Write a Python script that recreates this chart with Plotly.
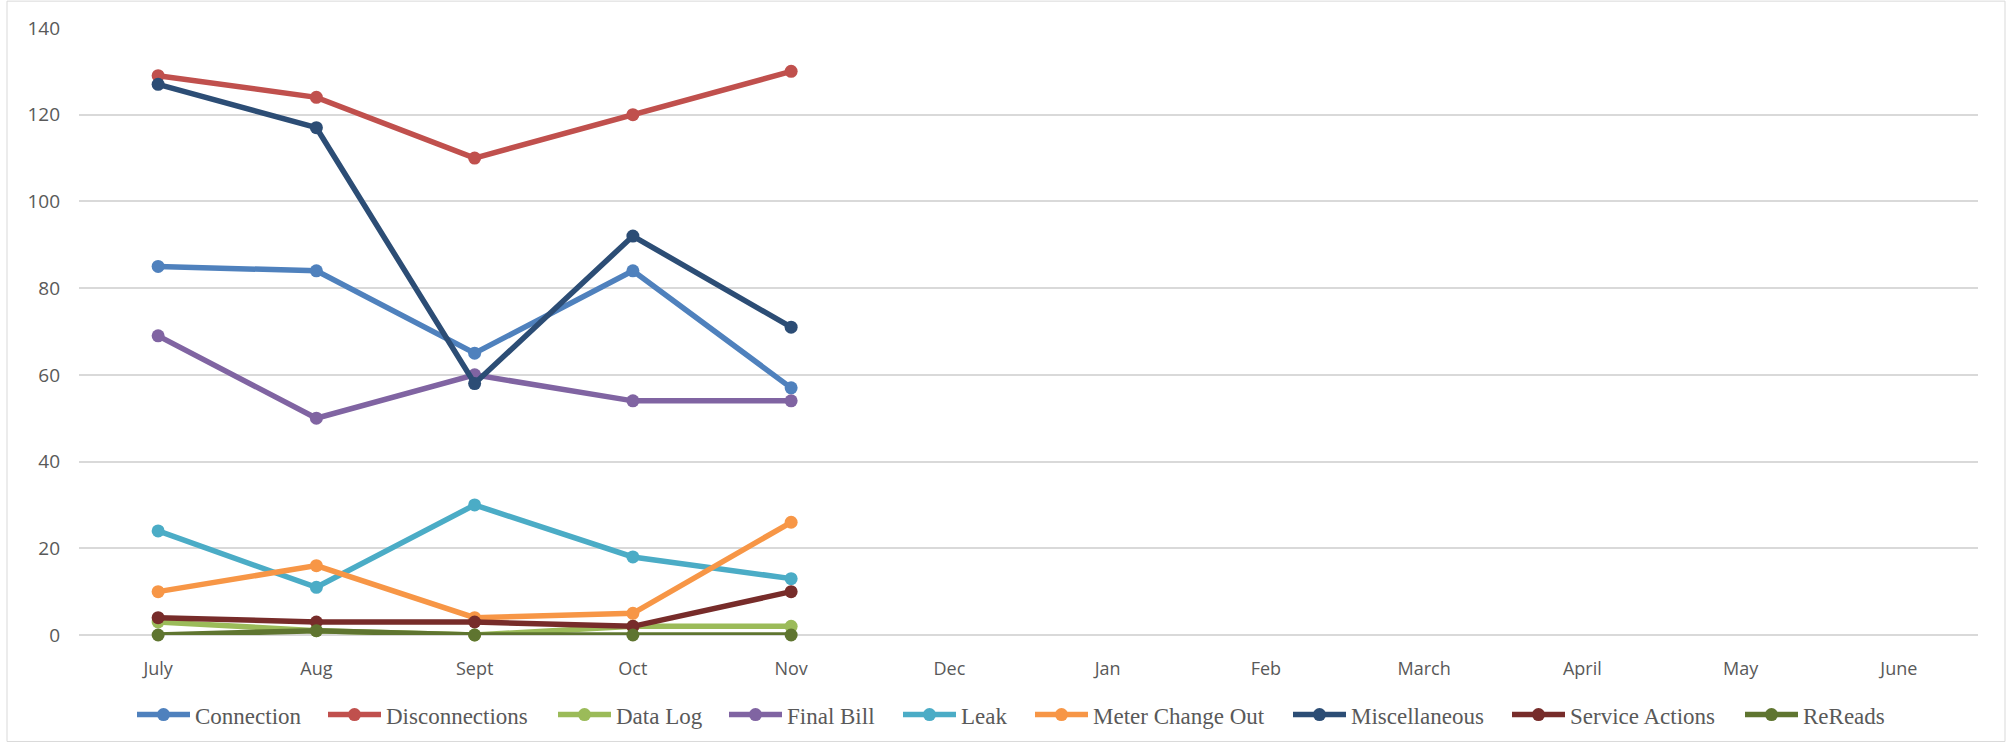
import plotly.graph_objects as go

months = ["July", "Aug", "Sept", "Oct", "Nov", "Dec", "Jan", "Feb", "March", "April", "May", "June"]
recorded_months = months[:5]

connection = [85, 84, 65, 84, 57]
disconnections = [129, 124, 110, 120, 130]
data_log = [3, 1, 0, 2, 2]
final_bill = [69, 50, 60, 54, 54]
leak = [24, 11, 30, 18, 13]
meter_change_out = [10, 16, 4, 5, 26]
miscellaneous = [127, 117, 58, 92, 71]
service_actions = [4, 3, 3, 2, 10]
rereads = [0, 1, 0, 0, 0]

series_names = ["Connection", "Disconnections", "Data Log", "Final Bill", "Leak",
                "Meter Change Out", "Miscellaneous", "Service Actions", "ReReads"]
series_values = [connection, disconnections, data_log, final_bill, leak,
                 meter_change_out, miscellaneous, service_actions, rereads]
series_colors = ["#4F81BD", "#C0504D", "#9BBB59", "#8064A2", "#4BACC6",
                 "#F79646", "#2C4D75", "#772C2A", "#5F7530"]

# pixel x of each legend entry's line sample (layout only)
legend_px = [137, 328, 558, 729, 903, 1035, 1293, 1512, 1745]

W, H = 2011, 748
L, R, T, B = 79, 33, 28, 110
pw, ph = W - L - R, H - T - B

fig = go.Figure()
legend_layouts = {}
for i, (name, vals, color) in enumerate(zip(series_names, series_values, series_colors)):
    lg = "legend" if i == 0 else f"legend{i + 1}"
    fig.add_trace(go.Scatter(
        x=recorded_months, y=vals, name=name, mode="lines+markers",
        line=dict(color=color, width=5.5),
        marker=dict(color=color, size=13),
        cliponaxis=False, legend=lg,
    ))
    legend_layouts[lg] = dict(
        orientation="h", x=(legend_px[i] - 5 - L) / pw, xanchor="left",
        y=(638 - 718) / ph, yanchor="middle",
        font=dict(family="Liberation Serif, Times New Roman, serif", size=23, color="#595959"),
        itemwidth=53, bgcolor="rgba(0,0,0,0)", borderwidth=0,
    )

fig.update_layout(
    width=W, height=H,
    margin=dict(l=L, r=R, t=T, b=B),
    paper_bgcolor="white", plot_bgcolor="white",
    showlegend=True,
    xaxis=dict(
        type="category", categoryorder="array", categoryarray=months,
        range=[-0.5, 11.5],
        showgrid=False, showline=False, zeroline=False, ticks="",
        tickfont=dict(family="Open Sans, sans-serif", size=18, color="#595959"),
        ticklabelstandoff=21,
    ),
    yaxis=dict(
        range=[0, 140], dtick=20,
        showgrid=True, gridcolor="#D9D9D9", gridwidth=1.5,
        zeroline=True, zerolinecolor="#D9D9D9", zerolinewidth=1.5,
        showline=False, ticks="",
        tickfont=dict(family="Open Sans, sans-serif", size=19, color="#595959"),
        ticklabelstandoff=18,
    ),
    shapes=[dict(
        type="rect", xref="paper", yref="paper",
        x0=(7 - L) / pw, x1=(2005 - L) / pw,
        y0=(638 - 745) / ph, y1=(638 - 1) / ph,
        line=dict(color="#D9D9D9", width=1), fillcolor="rgba(0,0,0,0)",
        layer="below",
    )],
    **legend_layouts,
)

fig.write_html("out.html")
